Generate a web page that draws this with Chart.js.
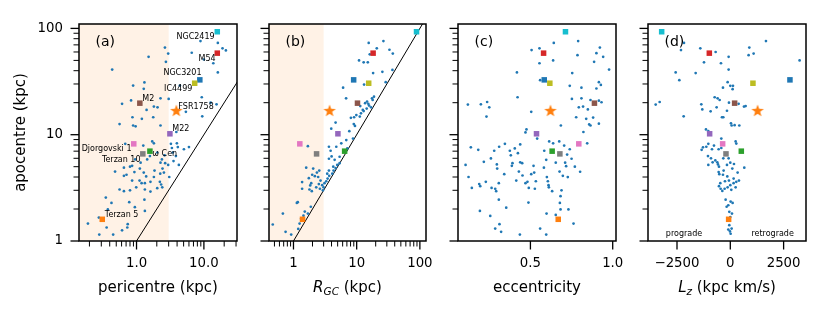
<!DOCTYPE html>
<html lang="en">
<head>
  <meta charset="UTF-8" />
  <title>Globular cluster orbits – apocentre vs orbital parameters</title>
  <script src="https://cdn.jsdelivr.net/npm/chart.js"></script>
  <style>
    body { margin: 0; background: #fff; }
    .wrap { position: relative; width: 830px; height: 309px; }
    .wrap canvas { position: absolute; left: 0; top: 0; }
  </style>
</head>
<body>
<div class="wrap">
  <canvas id="panelA" width="830" height="309"></canvas>
  <canvas id="panelB" width="830" height="309"></canvas>
  <canvas id="panelC" width="830" height="309"></canvas>
  <canvas id="panelD" width="830" height="309"></canvas>
</div>

<script>
  // ---- data ----

  // (a) pericentre vs apocentre (kpc)
  const periA = [2.64,2.95,2.73,1.51,0.435,6.6,8.9,16.1,18.9,21.2, 13.8,10,16.1,1.31,0.89,1.28,4.4,9.3,12.6,15.4,
    0.61,0.83,2.27,3.0,1.41,1.81,2.05,0.87,1.2,1.77, 0.56,0.89,0.97,2.27,5.4,9.45,3.9,0.68,1.26,1.71,
    1.81,3.24,3.97,4.1,3.35,6.0,5.05,3.46,3.84,2.61, 2.03,2.38,2.27,2.66,2.95,4.25,3.54,1.58,1.44,0.955,
    0.86,0.65,0.8,1.15,1.12,0.93,1.28,1.85,1.39,1.81, 2.43,2.55,2.25,3.06,0.48,0.65,0.71,0.86,1.11,1.19,
    1.33,1.61,2.22,2.32,2.41,0.56,0.65,0.8,0.99,1.33, 1.61,2.03,0.35,0.425,0.78,1.31,0.945,0.375,1.33,0.276,
    0.19,0.36,0.74,0.73,0.61,0.45,0.28];
  const apoA = [66,58,48.5,54,41,59,76,73,65,62, 47,51,38.5,31,29,27,29,22.5,20,19.3,
    19.5,21,22,21.7,17.1,18.4,18.1,14.6,14.1,14.6, 12.6,12.2,12.0,12.2,16.4,14.9,10.6,8.2,7.9,8.65,
    8.3,8.2,8.3,7.65,7.5,7.65,7.3,6.8,6.3,6.4, 6.8,5.85,5.45,5.4,5.2,5.2,5.65,6.3,5.85,5.85,
    5.1,4.9,5.0,5.45,4.8,4.45,4.4,4.6,4.05,4.0, 4.8,4.4,4.3,4.0,4.5,4.1,4.2,3.7,3.7,3.5,
    3.5,3.6,3.6,3.4,3.2,3.05,2.94,3.0,3.2,3.05, 2.92,3.14,2.56,2.28,2.32,2.45,2.08,1.98,1.92,1.66,
    1.46,1.34,1.44,1.34,1.26,1.15,1.15];

  // (b) galactocentric distance vs apocentre
  const rgcB = [15.5,26.5,20.8,33,37.3,16.1,10.9,12.9,15.0,18.2, 25.5,36.8,28.8,13.1,6.1,6.8,17.5,13.6,15.7,11.4,
    14.4,12.9,11.7,9.1,11.2,14.6,17.9,15.3,9.4,9.0, 8.1,3.96,4.64,7.65,6.85,4.76,1.69,3.87,3.64,5.37,
    4.93,4.64,4.31,4.11,3.68,3.47,3.3,3.1,2.99,2.85, 2.68,2.46,2.56,1.59,2.05,2.35,2.18,1.98,1.75,1.37,
    1.84,1.79,1.95,2.29,2.62,2.92,1.37,1.17,1.13,1.88, 1.51,1.44,1.69,0.68,0.47,0.75,0.92,1.25,1.19,1.32,
    3.64,4.01,4.48,5.37,4.26,3.64,3.42,1.91,2.52,8.75, 5.71,7.11,12.5,18.8,16.9,9.88];
  const apoB = [73,76,65,63,58,57,50,48,48,38, 39,40.7,31.2,29.6,27.7,22,22,19.8,18.8,18.6,
    17.6,16.7,15.9,14.6,14.8,20.5,21.2,19.5,12.1,12.6, 14.4,11.4,13.0,10.8,8.9,7.7,7.8,7.06,5.94,5.4,
    5.2,4.85,4.6,4.3,4.1,3.87,3.65,3.5,3.2,3.35, 3.7,4.0,4.6,4.9,4.8,4.4,4.07,4.2,3.9,3.58,
    3.33,3.05,2.94,3.2,3.1,3.0,3.1,2.32,2.28,2.1, 1.89,1.73,1.81,1.81,1.43,1.22,1.15,1.46,1.3,1.62,
    7.7,6.25,5.8,6.2,5.0,4.6,4.3,3.5,3.43,9.2, 8.3,7.43,17.1,22.8,18.1,15.3];

  // (c) eccentricity vs apocentre
  const eccC = [0.642,0.790,0.507,0.555,0.555,0.638,0.786,0.922,0.901,0.942, 0.887,0.978,0.418,0.754,0.559,0.739,0.810,0.916,0.928,0.901,
    0.422,0.752,0.810,0.865,0.916,0.932,0.794,0.820,0.849,0.120, 0.199,0.237,0.250,0.233,0.505,0.778,0.839,0.881,0.865,0.857,
    0.916,0.685,0.476,0.470,0.541,0.822,0.138,0.183,0.280,0.310, 0.345,0.375,0.405,0.381,0.438,0.424,0.584,0.614,0.638,0.675,
    0.705,0.739,0.723,0.750,0.845,0.217,0.260,0.106,0.124,0.144, 0.189,0.195,0.229,0.264,0.286,0.292,0.296,0.298,0.308,0.341,
    0.387,0.391,0.414,0.430,0.438,0.450,0.452,0.470,0.482,0.490, 0.505,0.519,0.523,0.527,0.533,0.582,0.596,0.600,0.606,0.610,
    0.612,0.632,0.654,0.677,0.697,0.711,0.717,0.727,0.770,0.802, 0.689,0.193,0.256,0.286,0.312,0.322,0.353,0.308,0.488,0.436,
    0.559,0.596,0.598,0.654,0.679,0.683,0.731,0.762,0.683];
  const apoC = [73,76,62.5,65,47,50,56,66,58.5,54, 48.5,41,38.5,38,32.6,28.8,27.7,31.2,29.4,27.2,
    22.5,21.7,22,21.2,20.9,20.2,18.1,18.4,17.3,19.2, 19.3,20.3,18.1,14.8,16.4,14.6,14.1,14.5,12.2,12.5,
    12.7,12.2,11.2,10.5,9.2,10.6,7.6,7.2,7.06,7.7, 8.2,7.06,7.43,6.4,8.1,6.7,7.06,8.65,8.3,8.65,
    7.9,7.3,6.5,5.94,8.3,5.56,5.98,5.2,4.0,3.16, 3.43,3.28,3.6,3.16,3.1,2.94,5.25,4.8,3.5,4.25,
    5.1,5.4,3.7,4.5,5.5,5.4,4.13,3.5,3.6,3.16, 4.25,5.1,4.4,3.1,3.65,4.9,5.8,3.99,3.65,3.35,
    3.2,2.94,5.45,4.5,4.1,5.45,5.06,3.99,5.0,4.48, 3.0,1.92,1.72,1.31,1.44,1.22,2.06,2.45,2.3,1.15,
    1.31,1.15,1.81,1.76,2.28,1.98,1.98,1.46,2.64];

  // (d) L_z (kpc km/s) vs apocentre
  const lzD = [1672,-2172,-2313,-1406,-688,-1234,-438,-78,891,859, 1094,3250,-2563,-1625,-78,-2391,-125,-344,0,125,
    109,-3500,-3313,-1359,-1313,-922,-734,-594,-500,-641, -328,-391,-63,-156,641,719,391,-2188,31,63,
    203,422,-1141,-1031,-422,-1344,-1281,-1125,-1031,-859, -766,-547,-422,250,281,-1047,-906,-703,-609,-578,
    -531,-547,-516,-1031,-828,-328,-156,-78,0,94, 344,656,172,-344,-141,-63,-250,-469,-531,-453,
    -375,-266,-125,0,156,250,47,281,-219,-172, -94,16,109,-47,78,0,-47,63,-16,16,
    -94,156,-313,406];
  const apoD = [76,73,62.5,65,60,48,47,54,66,56, 58,50,38.5,38,41,32.6,31.2,27.7,28.8,28.8,
    26.8,19.2,20.3,19.3,17.3,16.6,22.5,22,21.2,18.1, 14.6,14.6,20,16.8,18.4,18.6,19.5,14.9,12.8,12.2,
    12.3,12.2,11.2,10.8,9.2,7.2,7.6,7.7,8.2,7.3, 7.9,7.3,7.5,8.65,8.25,6.3,6.0,5.73,5.5,5.25,
    5.0,4.45,4.25,5.2,5.5,6.0,5.2,6.0,5.45,4.8, 4.4,4.9,5.3,4.2,4.05,3.7,3.65,3.5,3.28,3.1,
    2.96,3.1,3.2,3.35,3.5,3.2,3.03,3.6,2.45,2.1, 2.17,2.35,2.28,1.88,1.81,1.68,1.41,1.31,1.23,1.17,
    1.28,3.87,4.6,3.7];

  // named clusters (squares)
  const hiNames  = ['NGC2419','M54','NGC3201','IC4499','M2','M22','Djorgovski 1','ω Cen','Terzan 10','Terzan 5'];
  const hiColors = ['#17becf','#d62728','#1f77b4','#bcbd22','#8c564b','#9467bd','#e377c2','#2ca02c','#7f7f7f','#ff7f0e'];
  const hiApo  = [93, 58.5, 32.8, 30.5, 19.8, 10.2, 8.2, 7.0, 6.6, 1.6];
  const hiPeri = [15.8, 15.8, 8.7, 7.3, 1.12, 3.13, 0.91, 1.58, 1.24, 0.31];
  const hiRgc  = [88.5, 18.2, 8.96, 15.5, 10.3, 5.05, 1.26, 6.45, 2.32, 1.39];
  const hiEcc  = [0.713, 0.58, 0.584, 0.618, 0.889, 0.537, 0.794, 0.632, 0.679, 0.669];
  const hiLz   = [-3219, -984, 2797, 1062, 203, -969, -359, 516, -203, -78];

  // FSR1758 (star)
  const fsrName = 'FSR1758';
  const fsrApo = 16.7, fsrPeri = 3.9, fsrRgc = 3.73, fsrEcc = 0.622, fsrLz = 1281;

  // ticks
  const apoTickVals  = [1,2,3,4,5,6,7,8,9,10,20,30,40,50,60,70,80,90,100];
  const apoTickMajor = [1,10,100];
  const apoTickText  = ['1','10','100'];
  const periTickVals  = [0.2,0.3,0.4,0.5,0.6,0.7,0.8,0.9,1,2,3,4,5,6,7,8,9,10,20,30];
  const periTickMajor = [1,10];
  const periTickText  = ['1.0','10.0'];
  const rgcTickVals  = [0.5,0.6,0.7,0.8,0.9,1,2,3,4,5,6,7,8,9,10,20,30,40,50,60,70,80,90,100];
  const rgcTickMajor = [1,10,100];
  const rgcTickText  = ['1','10','100'];
  const eccTickVals = [0.5,1.0];
  const eccTickText = ['0.5','1.0'];
  const lzTickVals = [-2500,0,2500];
  const lzTickText = ['\u22122500','0','2500'];

  // ---- drawing ----
  const FONT = "'DejaVu Sans', sans-serif";
  const DOT = '#1f77b4';
  const SHADE = 'rgba(255,127,14,0.1)';
  Chart.defaults.font.family = FONT;
  Chart.defaults.color = '#000';
  Chart.defaults.animation = false;

  // label offsets (px) for panel (a) annotations, same order as hiNames
  const hiNoteOffsets = [[-2.7,5.3,'right'],[-1.7,5.7,'right'],[1.7,-6.7,'right'],[-2.3,6,'right'],[2.4,-4.3,'left'],
    [2.4,-4.7,'left'],[-2.3,5.3,'right'],[2.4,2.3,'left'],[-2.3,5.6,'right'],[2.6,-4.7,'left']];
  const fsrNoteOffset = [2,-3.7,'left'];

  function makeStar(r, color) {
    const c = document.createElement('canvas');
    const s = Math.ceil(r * 2 + 2);
    c.width = c.height = s;
    const g = c.getContext('2d');
    g.fillStyle = color;
    g.beginPath();
    for (let i = 0; i < 10; i++) {
      const rad = i % 2 ? r * 0.4 : r;
      const a = -Math.PI / 2 + i * Math.PI / 5;
      g.lineTo(s / 2 + rad * Math.cos(a), s / 2 + rad * Math.sin(a));
    }
    g.closePath();
    g.fill();
    return c;
  }
  const starImg = makeStar(6.6, '#ff7f0e');

  const fontStr = (size, italic) => (italic ? 'italic ' : '') + size + 'px ' + FONT;

  function drawRich(ctx, parts, cx, baseY) {
    let w = 0;
    parts.forEach(p => { ctx.font = fontStr(p[1], p[2]); p.w = ctx.measureText(p[0]).width; w += p.w; });
    let x = cx - w / 2;
    ctx.textAlign = 'left';
    ctx.textBaseline = 'alphabetic';
    parts.forEach(p => { ctx.font = fontStr(p[1], p[2]); ctx.fillText(p[0], x, baseY + p[3]); x += p.w; });
  }

  function panelPlugin(P) {
    return {
      id: 'decor' + P.id,
      beforeDatasetsDraw(chart) {
        if (P.shadeTo == null) return;
        const { ctx, chartArea: a, scales } = chart;
        const xr = scales.x.getPixelForValue(P.shadeTo);
        ctx.save();
        ctx.fillStyle = SHADE;
        ctx.fillRect(a.left, a.top, xr - a.left, a.bottom - a.top);
        ctx.restore();
      },
      afterDraw(chart) {
        const { ctx, chartArea: a, scales } = chart;
        ctx.save();
        ctx.strokeStyle = '#000';
        // tick marks
        scales.x.ticks.forEach(t => {
          const p = scales.x.getPixelForValue(t.value);
          const major = P.xMajor.includes(t.value);
          ctx.lineWidth = major ? 1.3 : 1;
          ctx.beginPath(); ctx.moveTo(p, a.bottom); ctx.lineTo(p, a.bottom + (major ? 8.5 : 5.5)); ctx.stroke();
        });
        scales.y.ticks.forEach(t => {
          const p = scales.y.getPixelForValue(t.value);
          const major = apoTickMajor.includes(t.value);
          ctx.lineWidth = major ? 1.3 : 1;
          ctx.beginPath(); ctx.moveTo(a.left, p); ctx.lineTo(a.left - (major ? 8.5 : 5.5), p); ctx.stroke();
        });
        // frame
        ctx.lineWidth = 1.5;
        ctx.strokeRect(a.left, a.top, a.right - a.left, a.bottom - a.top);

        ctx.fillStyle = '#000';
        // x title
        drawRich(ctx, P.title, (a.left + a.right) / 2, 291.5);
        // y title (first panel only)
        if (P.yLabels) {
          ctx.save();
          ctx.translate(21.5, (a.top + a.bottom) / 2);
          ctx.rotate(-Math.PI / 2);
          ctx.font = fontStr(15, false);
          ctx.textAlign = 'center';
          ctx.textBaseline = 'middle';
          ctx.fillText('apocentre (kpc)', 0, 0);
          ctx.restore();
        }
        // panel tag
        ctx.font = fontStr(14, false);
        ctx.textAlign = 'left';
        ctx.textBaseline = 'middle';
        ctx.fillText(P.tag, a.left + 16.5, 42.3);

        // names in panel (a)
        if (P.notes) {
          ctx.font = fontStr(8, false);
          const note = (name, x, y, off) => {
            ctx.textAlign = off[2];
            ctx.fillText(name, scales.x.getPixelForValue(x) + off[0], scales.y.getPixelForValue(y) + off[1]);
          };
          hiNames.forEach((n, i) => note(n, P.hx[i], hiApo[i], hiNoteOffsets[i]));
          note(fsrName, P.starX, fsrApo, fsrNoteOffset);
        }
        // prograde / retrograde in panel (d)
        if (P.sides) {
          ctx.font = fontStr(8, false);
          ctx.textAlign = 'center';
          const yy = scales.y.getPixelForValue(1.16);
          ctx.fillText('prograde', scales.x.getPixelForValue(-2170), yy);
          ctx.fillText('retrograde', scales.x.getPixelForValue(1985), yy);
        }
        ctx.restore();
      }
    };
  }

  const panels = [
    { id: 'panelA', tag: '(a)', left: 79, right: 237, yW: 79, yLabels: true, notes: true, shadeTo: 3, diag: true,
      xType: 'logarithmic', xMin: 0.14, xMax: 31, xVals: periTickVals, xMajor: periTickMajor, xText: periTickText,
      title: [['pericentre (kpc)', 15, false, 0]],
      xs: periA, ys: apoA, hx: hiPeri, starX: fsrPeri },
    { id: 'panelB', tag: '(b)', left: 269, right: 426, yW: 10, shadeTo: 3, diag: true,
      xType: 'logarithmic', xMin: 0.41, xMax: 125, xVals: rgcTickVals, xMajor: rgcTickMajor, xText: rgcTickText,
      title: [['R', 15, true, 0], ['GC', 10.5, true, 3.5], [' (kpc)', 15, false, 0]],
      xs: rgcB, ys: apoB, hx: hiRgc, starX: fsrRgc },
    { id: 'panelC', tag: '(c)', left: 458, right: 616, yW: 10,
      xType: 'linear', xMin: 0.06, xMax: 1.02, xVals: eccTickVals, xMajor: eccTickVals, xText: eccTickText,
      title: [['eccentricity', 15, false, 0]],
      xs: eccC, ys: apoC, hx: hiEcc, starX: fsrEcc },
    { id: 'panelD', tag: '(d)', left: 648, right: 806, yW: 10, sides: true,
      xType: 'linear', xMin: -3860, xMax: 3550, xVals: lzTickVals, xMajor: lzTickVals, xText: lzTickText,
      title: [['L', 15, true, 0], ['z', 10.5, true, 3.5], [' (kpc km/s)', 15, false, 0]],
      xs: lzD, ys: apoD, hx: hiLz, starX: fsrLz }
  ];

  panels.forEach(P => {
    const datasets = [
      { label: fsrName, data: [{ x: P.starX, y: fsrApo }], pointStyle: starImg, pointRadius: 6,
        pointBorderWidth: 0, order: 0 },
      { label: 'named', data: hiApo.map((y, i) => ({ x: P.hx[i], y })), pointStyle: 'rect', pointRadius: 3.9,
        pointBackgroundColor: hiColors, pointBorderWidth: 0, order: 1 },
      { label: 'clusters', data: P.xs.map((x, i) => ({ x, y: P.ys[i] })), pointRadius: 1.35,
        pointBackgroundColor: DOT, pointBorderWidth: 0, order: 2 }
    ];
    if (P.diag) {
      datasets.push({ type: 'line', label: 'y = x', data: [{ x: 1, y: 1 }, { x: 1000, y: 1000 }],
        borderColor: '#000', borderWidth: 1, pointRadius: 0, showLine: true, order: 3 });
    }

    new Chart(document.getElementById(P.id), {
      type: 'scatter',
      data: { datasets },
      options: {
        responsive: false,
        animation: false,
        events: [],
        layout: { padding: { left: P.left - P.yW, right: 830 - P.right, top: 24, bottom: 0 } },
        plugins: { legend: { display: false }, tooltip: { enabled: false } },
        scales: {
          x: {
            type: P.xType, min: P.xMin, max: P.xMax, position: 'bottom',
            grid: { display: false, drawTicks: false }, border: { display: false },
            afterBuildTicks: s => { s.ticks = P.xVals.map(v => ({ value: v })); },
            afterFit: s => { s.height = 68; },
            ticks: {
              autoSkip: false, maxRotation: 0, padding: 15, color: '#000', font: { size: 13.3 },
              callback: v => { const i = P.xMajor.indexOf(v); return i >= 0 ? P.xText[i] : ''; }
            }
          },
          y: {
            type: 'logarithmic', min: 1, max: 110, position: 'left',
            grid: { display: false, drawTicks: false }, border: { display: false },
            afterBuildTicks: s => { s.ticks = apoTickVals.map(v => ({ value: v })); },
            afterFit: s => { s.width = P.yW; },
            ticks: {
              display: !!P.yLabels, autoSkip: false, padding: 16, color: '#000', font: { size: 13.3 },
              callback: v => { const i = apoTickMajor.indexOf(v); return i >= 0 ? apoTickText[i] : ''; }
            }
          }
        }
      },
      plugins: [panelPlugin(P)]
    });
  });
</script>
</body>
</html>
